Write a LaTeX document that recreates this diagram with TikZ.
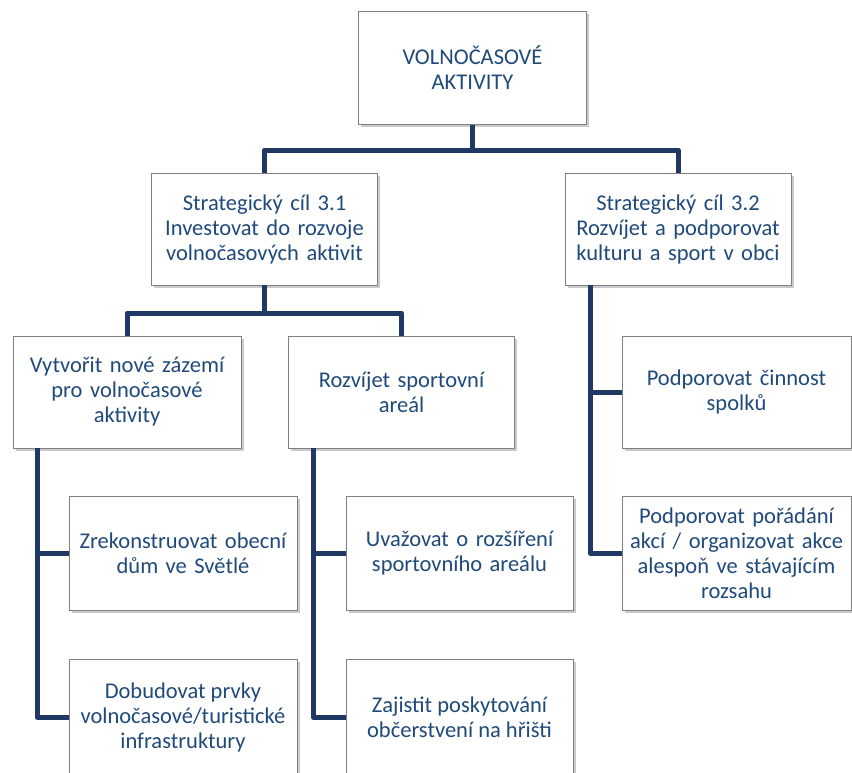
\documentclass[tikz,border=0pt]{standalone}
\usepackage{fontspec}
\setmainfont{Carlito}
\usetikzlibrary{shadows}
\definecolor{txtblue}{RGB}{31,74,122}
\definecolor{lineblue}{RGB}{31,56,100}
\definecolor{boxgray}{RGB}{128,128,128}
\begin{document}
\begin{tikzpicture}[x=1pt,y=-1pt,
  lbl/.style={text=txtblue, font=\fontsize{22.5}{25}\selectfont, align=center},
  box/.style={lbl, draw=boxgray, line width=0.8pt, fill=white, minimum width=228pt, minimum height=113pt,
    text width=226pt,
    drop shadow={shadow xshift=2.5pt, shadow yshift=-2.5pt, opacity=0.35, fill=black!60}, inner sep=0pt},
  conn/.style={draw=lineblue, line width=5pt, line join=round}]
\useasboundingbox (0,0) rectangle (852,772);
\clip (0,0) rectangle (852,772);
\node[box] (top) at (472.5,68) {VOLNOČASOVÉ\\AKTIVITY};
\node[box, minimum width=225pt, minimum height=112pt] (sc1) at (264.5,229) {Strategický cíl 3.1\\Investovat do rozvoje\\volnočasových aktivit};
\node[box, minimum width=226pt, minimum height=112pt] (sc2) at (678,229) {Strategický cíl 3.2\\Rozvíjet a podporovat\\kulturu a sport v obci};
\node[box, minimum height=112pt] (vyt) at (127,392) {Vytvořit nové zázemí\\pro volnočasové\\aktivity};
\node[box, minimum width=225pt, minimum height=112pt] (roz) at (401.5,392) {Rozvíjet sportovní\\areál};
\node[box, minimum height=114pt] (zre) at (183,553) {Zrekonstruovat obecní\\dům ve Světlé};
\node[box, minimum width=227pt, minimum height=114pt] (uva) at (459.5,553) {Uvažovat o rozšíření\\sportovního areálu};
\node[box, minimum height=120pt] (dob) at (183,719) {};
\node[lbl] (dobt) at (183,717) {Dobudovat prvky\\volnočasové/turistické\\infrastruktury};
\node[box, minimum width=227pt, minimum height=120pt] (zaj) at (459.5,719) {};
\node[lbl] (zajt) at (459.5,717) {Zajistit poskytování\\občerstvení na hřišti};
\node[box, minimum width=229pt, minimum height=112pt] (pcin) at (736.5,392) {Podporovat činnost\\spolků};
\node[box, minimum width=229pt, minimum height=114pt] (ppor) at (736.5,553) {Podporovat pořádání\\akcí / organizovat akce\\alespoň ve stávajícím\\rozsahu};
% connectors
\coordinate (j1) at (472.5,150);
\draw[conn] (top.south) -- (j1);
\draw[conn] (sc1.north) |- (j1) -| (sc2.north);
\coordinate (j2) at (264.5,313);
\draw[conn] (sc1.south) -- (j2);
\draw[conn] (vyt.north) |- (j2) -| (roz.north);
\coordinate (v1) at (37,448);
\draw[conn] (v1) |- (zre.west);
\draw[conn] (v1) |- (dob.west |- dobt);
\coordinate (r1) at (313,448);
\draw[conn] (r1) |- (uva.west);
\draw[conn] (r1) |- (zaj.west |- zajt);
\coordinate (s1) at (590,285);
\draw[conn] (s1) |- (pcin.west);
\draw[conn] (s1) |- (ppor.west);
\end{tikzpicture}
\end{document}
